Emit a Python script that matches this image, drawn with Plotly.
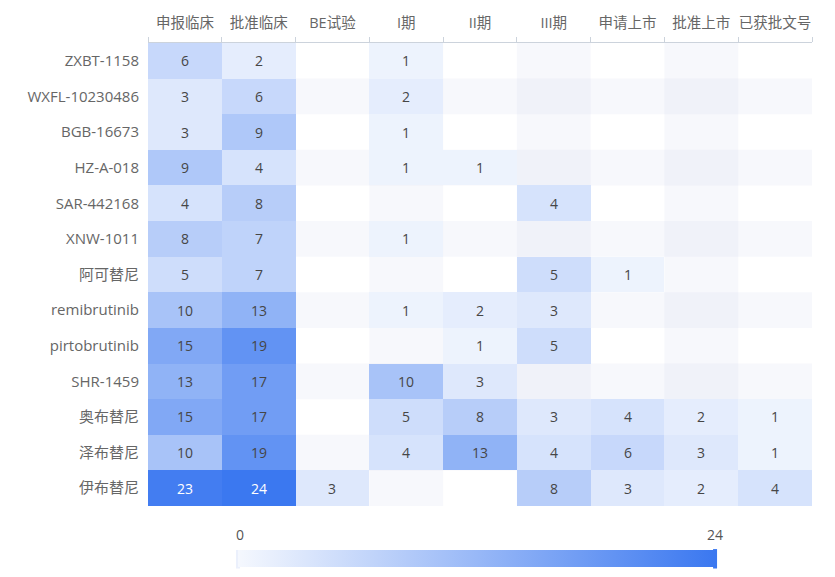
import plotly.graph_objects as go

stages = ["申报临床", "批准临床", "BE试验", "I期", "II期", "III期", "申请上市", "批准上市", "已获批文号"]
drugs = ["ZXBT-1158", "WXFL-10230486", "BGB-16673", "HZ-A-018", "SAR-442168", "XNW-1011",
         "阿可替尼", "remibrutinib", "pirtobrutinib", "SHR-1459", "奥布替尼", "泽布替尼", "伊布替尼"]
N = None
values = [
    [6, 2, N, 1, N, N, N, N, N],
    [3, 6, N, 2, N, N, N, N, N],
    [3, 9, N, 1, N, N, N, N, N],
    [9, 4, N, 1, 1, N, N, N, N],
    [4, 8, N, N, N, 4, N, N, N],
    [8, 7, N, 1, N, N, N, N, N],
    [5, 7, N, N, N, 5, 1, N, N],
    [10, 13, N, 1, 2, 3, N, N, N],
    [15, 19, N, N, 1, 5, N, N, N],
    [13, 17, N, 10, 3, N, N, N, N],
    [15, 17, N, 5, 8, 3, 4, 2, 1],
    [10, 19, N, 4, 13, 4, 6, 3, 1],
    [23, 24, 3, N, N, 8, 3, 2, 4],
]
vmin, vmax = 0, 24

FONT = "Open Sans, Noto Sans CJK SC, sans-serif"

fig = go.Figure()

fig.add_trace(go.Heatmap(
    z=values, x=stages, y=drugs,
    zmin=vmin, zmax=vmax,
    colorscale=[[0, "#f5f8fe"], [1, "#3b78f0"]],
    hoverongaps=False,
    xgap=0, ygap=0,
    colorbar=dict(
        orientation="h", x=0.4947, xanchor="center",
        y=-0.095, yanchor="top", xpad=0, ypad=0,
        lenmode="pixels", len=477, thickness=17,
        outlinewidth=0, showticklabels=False, ticks="",
    ),
))

shapes = []
band = "rgba(200,210,235,0.15)"
for i in range(len(drugs)):
    if i % 2 == 1:
        shapes.append(dict(type="rect", xref="paper", yref="y", x0=0, x1=1,
                           y0=i - 0.5, y1=i + 0.5, fillcolor=band, line_width=0, layer="below"))
for j in range(len(stages)):
    if j % 2 == 1:
        shapes.append(dict(type="rect", xref="x", yref="paper", x0=j - 0.5, x1=j + 0.5,
                           y0=0, y1=1, fillcolor=band, line_width=0, layer="below"))
# visualMap-style end handles
shapes.append(dict(type="rect", xref="paper", yref="paper", x0=0.1325, x1=0.1385,
                   y0=-0.095, y1=-0.135, fillcolor="rgba(235,240,252,1)", line_width=0))
shapes.append(dict(type="rect", xref="paper", yref="paper", x0=0.851, x1=0.857,
                   y0=-0.093, y1=-0.135, fillcolor="#3b78f0", line_width=0))

annotations = []
for i, row in enumerate(values):
    for j, v in enumerate(row):
        if v is None:
            continue
        annotations.append(dict(
            x=stages[j], y=drugs[i], text=str(v), showarrow=False,
            font=dict(family=FONT, size=14, color="#ffffff" if v > 20 else "#464646"),
        ))
annotations.append(dict(xref="paper", yref="paper", x=0.1386, y=-0.0626, text=str(vmin),
                        xanchor="center", yanchor="middle",
                        showarrow=False, font=dict(size=14, color="#555555")))
annotations.append(dict(xref="paper", yref="paper", x=0.854, y=-0.0626, text=str(vmax),
                        xanchor="center", yanchor="middle",
                        showarrow=False, font=dict(size=14, color="#555555")))

fig.update_layout(
    width=819, height=561,
    margin=dict(l=140, r=15, t=35, b=63, autoexpand=False),
    paper_bgcolor="white", plot_bgcolor="white",
    font=dict(family=FONT, size=14, color="#666666"),
    shapes=shapes, annotations=annotations,
    xaxis=dict(side="top", type="category", categoryorder="array", categoryarray=stages,
               automargin=False, tickangle=0, ticklabelstandoff=8,
               showgrid=False, zeroline=False, showline=True, linecolor="#ccd3dc", linewidth=1,
               ticks="outside", tickson="boundaries", ticklen=5, tickcolor="#ccd3dc",
               tickfont=dict(family=FONT, size=14.5, color="#666666")),
    yaxis=dict(type="category", categoryorder="array", categoryarray=drugs, autorange="reversed",
               automargin=False,
               showgrid=False, zeroline=False, showline=False, ticks="",
               ticklabelstandoff=8, tickfont=dict(family=FONT, size=15, color="#666666")),
)

fig.write_html("out.html")
